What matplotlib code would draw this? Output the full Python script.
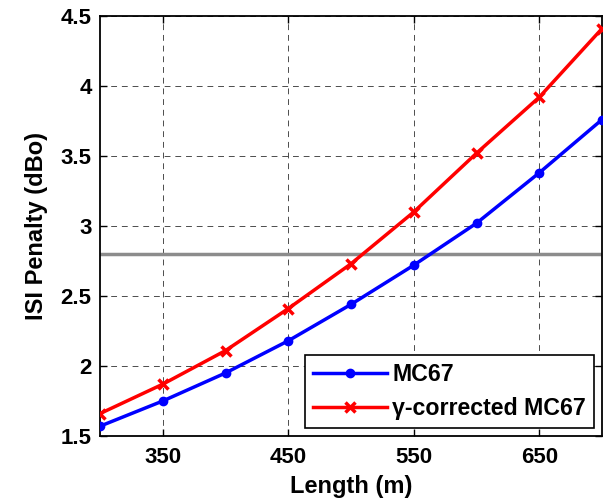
import matplotlib
matplotlib.use("Agg")
import matplotlib.pyplot as plt

plt.rcParams['font.family'] = ['Liberation Sans', 'DejaVu Sans']
plt.rcParams['font.weight'] = 'bold'

length = [300, 350, 400, 450, 500, 550, 600, 650, 700]
mc67 = [1.57, 1.75, 1.95, 2.18, 2.44, 2.72, 3.02, 3.38, 3.76]
mc67_gamma = [1.66, 1.87, 2.11, 2.41, 2.73, 3.10, 3.52, 3.92, 4.41]
threshold = 2.8
xticks = [350, 450, 550, 650]
yticks = [1.5, 2, 2.5, 3, 3.5, 4, 4.5]
ytick_labels = ['1.5', '2', '2.5', '3', '3.5', '4', '4.5']

fig = plt.figure(figsize=(6.11, 5.0), dpi=100)
ax = fig.add_axes([100/611, 1-436/500, 502/611, 420/500])

ax.axhline(threshold, color='#8c8c8c', lw=2.5, zorder=2)
ax.plot(length, mc67, color='blue', lw=2.5, marker='o', ms=6, label='MC67', zorder=3)
ax.plot(length, mc67_gamma, color='red', lw=2.5, marker='x', ms=7, mew=2.5,
        label='γ-corrected MC67', zorder=3)

ax.set_xlim(300, 700)
ax.set_ylim(1.5, 4.5)
ax.set_xticks(xticks)
ax.set_yticks(yticks)
ax.set_yticklabels(ytick_labels)
ax.tick_params(direction='in', labelsize=16, width=1, length=5, top=True, right=True)
ax.tick_params(axis='x', pad=8)
ax.tick_params(axis='y', pad=6)
for lab in ax.get_xticklabels() + ax.get_yticklabels():
    lab.set_fontweight('bold')
ax.grid(True, color='black', linestyle=(0, (6, 5)), lw=0.7, alpha=0.7)
for s in ax.spines.values():
    s.set_linewidth(1.3)

ax.set_xlabel('Length (m)', fontsize=17, fontweight='bold', labelpad=5)
ax.set_ylabel('ISI Penalty (dBo)', fontsize=17, fontweight='bold', labelpad=9)

leg = ax.legend(loc='lower right', handlelength=3.2, fancybox=False,
                edgecolor='black', framealpha=1, borderaxespad=0.35, labelspacing=0.45,
                handletextpad=0.2, borderpad=0.35,
                prop={'weight': 'bold', 'size': 16.7})
leg.get_frame().set_linewidth(1.2)

fig.savefig('out.png', dpi=100)
